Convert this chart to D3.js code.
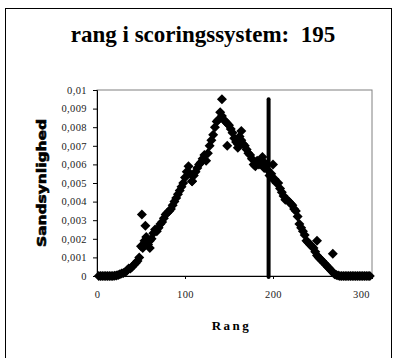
<!DOCTYPE html>
<html>
<head>
<meta charset="utf-8">
<script src="https://cdn.jsdelivr.net/npm/d3@7"></script>
<style>
  body { margin: 0; background: #fff; }
  svg { display: block; }
</style>
</head>
<body>
<div id="chart"></div>
<script>
// rang (x) og sandsynlighed (y)
const ranks = [2, 6, 10, 14, 18, 22, 26, 30, 34, 38, 42, 46, 50, 54, 58, 62, 66, 70, 74, 78,
  82, 86, 90, 94, 98, 102, 106, 110, 114, 118, 122, 126, 130, 134, 138, 142, 146, 150, 154, 158,
  162, 166, 170, 174, 178, 182, 186, 190, 194, 198, 202, 206, 210, 214, 218, 222, 226, 230, 234, 238,
  242, 246, 250, 254, 258, 262, 266, 270, 274, 278, 282, 286, 290, 294, 298, 302, 306, 310,
  51, 55, 60, 108, 142, 148, 160, 164, 188, 200, 250, 268];
const probs = [0, 0, 0, 0, 0, 0.00003, 0.0001, 0.00016, 0.0003, 0.0004, 0.0006, 0.0008, 0.0016, 0.0019, 0.0017, 0.002, 0.0025, 0.0026, 0.0029, 0.0033,
  0.0035, 0.0038, 0.0042, 0.0046, 0.005, 0.0056, 0.0055, 0.0054, 0.0058, 0.0061, 0.0065, 0.0066, 0.0073, 0.008, 0.0084, 0.0086, 0.0083, 0.0081, 0.0077, 0.0072,
  0.0075, 0.0071, 0.0068, 0.0065, 0.006, 0.0062, 0.0061, 0.0058, 0.0057, 0.0055, 0.0052, 0.005, 0.0045, 0.0041, 0.004, 0.0038, 0.0035, 0.0028, 0.0024, 0.0019,
  0.0017, 0.0015, 0.0011, 0.0009, 0.0007, 0.0005, 0.0003, 0.0001, 0.00003, 0, 0, 0, 0, 0, 0, 0, 0, 0,
  0.0033, 0.0027, 0.0015, 0.0051, 0.0095, 0.007, 0.0069, 0.0078, 0.0064, 0.006, 0.0019, 0.0012];
// second run of observations (the scatter around the band)
const ranks2 = [4, 8, 12, 16, 20, 24, 28, 32, 36, 40, 44, 48, 52, 56, 60, 64, 68, 72, 76, 80,
  84, 88, 92, 96, 100, 104, 108, 112, 116, 120, 124, 128, 132, 136, 140, 144, 148, 152, 156, 160,
  164, 168, 172, 176, 180, 184, 188, 192, 196, 200, 204, 208, 212, 216, 220, 224, 228, 232, 236, 240,
  244, 248, 252, 256, 260, 264, 268, 272, 276, 280, 284, 288, 292, 296, 300, 304, 308];
const probs2 = [0, 0, 0, 0, 0.00002, 0.00006, 0.00014, 0.0002, 0.0004, 0.0005, 0.0007, 0.001, 0.0015, 0.0021, 0.0019, 0.0023, 0.0024, 0.0028, 0.0031, 0.0034,
  0.0036, 0.004, 0.0044, 0.0048, 0.0053, 0.0059, 0.0051, 0.0056, 0.006, 0.0063, 0.0062, 0.007, 0.0076, 0.0083, 0.0088, 0.0084, 0.0082, 0.0079, 0.0074, 0.0071,
  0.0073, 0.007, 0.0066, 0.0063, 0.0059, 0.006, 0.0062, 0.006, 0.0054, 0.0052, 0.005, 0.0047, 0.0043, 0.0041, 0.0039, 0.0036, 0.0032, 0.0026, 0.0022, 0.0018,
  0.0016, 0.0013, 0.001, 0.0008, 0.0006, 0.0004, 0.0002, 0.00005, 0, 0, 0, 0, 0, 0, 0, 0, 0];
const xTicks = [0, 100, 200, 300];
const yTicks = [0, 0.001, 0.002, 0.003, 0.004, 0.005, 0.006, 0.007, 0.008, 0.009, 0.01];
const markRank = 195;
const markTop = 0.0095;
const title = 'rang i scoringssystem:  195';

const W = 397, H = 358;
const margin = { top: 90, right: 25, bottom: 82, left: 97 };
const w = W - margin.left - margin.right;
const h = H - margin.top - margin.bottom;

const root = d3.select('#chart').append('svg').attr('width', W).attr('height', H);

// chart frame
root.append('rect')
  .attr('x', 5.5).attr('y', 8.5).attr('width', 386).attr('height', 360)
  .attr('fill', 'none').attr('stroke', '#000').attr('stroke-width', 1);

root.append('text')
  .attr('x', 203).attr('y', 42)
  .attr('text-anchor', 'middle')
  .attr('font-family', 'Liberation Serif, serif')
  .attr('font-weight', 'bold').attr('font-size', '23px')
  .style('white-space', 'pre')
  .text(title);

const svg = root.append('g').attr('transform', `translate(${margin.left},${margin.top})`);

const x = d3.scaleLinear().domain([0, 312.5]).range([0, w]);
const y = d3.scaleLinear().domain([0, 0.01]).range([h, 0]);

// plot border (top/right)
svg.append('rect').attr('width', w).attr('height', h)
  .attr('fill', 'none').attr('stroke', '#808080').attr('stroke-width', 1);

const fmt = d => d === 0 ? '0' : String(+d.toFixed(3)).replace('.', ',');

const yAxis = svg.append('g')
  .call(d3.axisLeft(y).tickValues(yTicks).tickSize(4).tickPadding(6).tickFormat(fmt));
const xAxis = svg.append('g').attr('transform', `translate(0,${h})`)
  .call(d3.axisBottom(x).tickValues(xTicks).tickSize(3).tickPadding(12).tickFormat(d3.format('d')));

[yAxis, xAxis].forEach(g => {
  g.select('.domain').attr('stroke', '#000');
  g.selectAll('line').attr('stroke', '#000');
  g.selectAll('text')
    .attr('font-family', 'Liberation Serif, serif')
    .attr('font-size', '10.5px').attr('letter-spacing', '0.4px').attr('fill', '#222');
});

const pts = ranks.map((r, i) => ({ r, p: probs[i] }))
  .concat(ranks2.map((r, i) => ({ r, p: probs2[i] })));
const diamond = d3.symbol().type(d3.symbolSquare).size(50);
svg.selectAll('.pt').data(pts).join('path')
  .attr('class', 'pt')
  .attr('d', diamond)
  .attr('transform', d => `translate(${x(d.r)},${y(d.p)}) rotate(45)`)
  .attr('fill', '#000');

svg.append('line')
  .attr('x1', x(markRank)).attr('x2', x(markRank))
  .attr('y1', y(0) + 1).attr('y2', y(markTop))
  .attr('stroke', '#000').attr('stroke-width', 4).attr('stroke-linecap', 'round');

svg.append('text')
  .attr('x', w / 2 - 3).attr('y', h + 54)
  .attr('text-anchor', 'middle')
  .attr('font-family', 'Liberation Serif, serif')
  .attr('font-weight', 'bold').attr('font-size', '13px')
  .attr('letter-spacing', '2.5px')
  .text('Rang');

svg.append('text')
  .attr('transform', `translate(-55,${h / 2}) rotate(-90)`)
  .attr('text-anchor', 'middle')
  .attr('dominant-baseline', 'central')
  .attr('font-family', 'DejaVu Sans, sans-serif')
  .attr('font-weight', 'bold').attr('font-size', '12px')
  .attr('stroke', '#000').attr('stroke-width', 0.6)
  .attr('textLength', 128).attr('lengthAdjust', 'spacingAndGlyphs')
  .text('Sandsynlighed');
</script>
</body>
</html>
